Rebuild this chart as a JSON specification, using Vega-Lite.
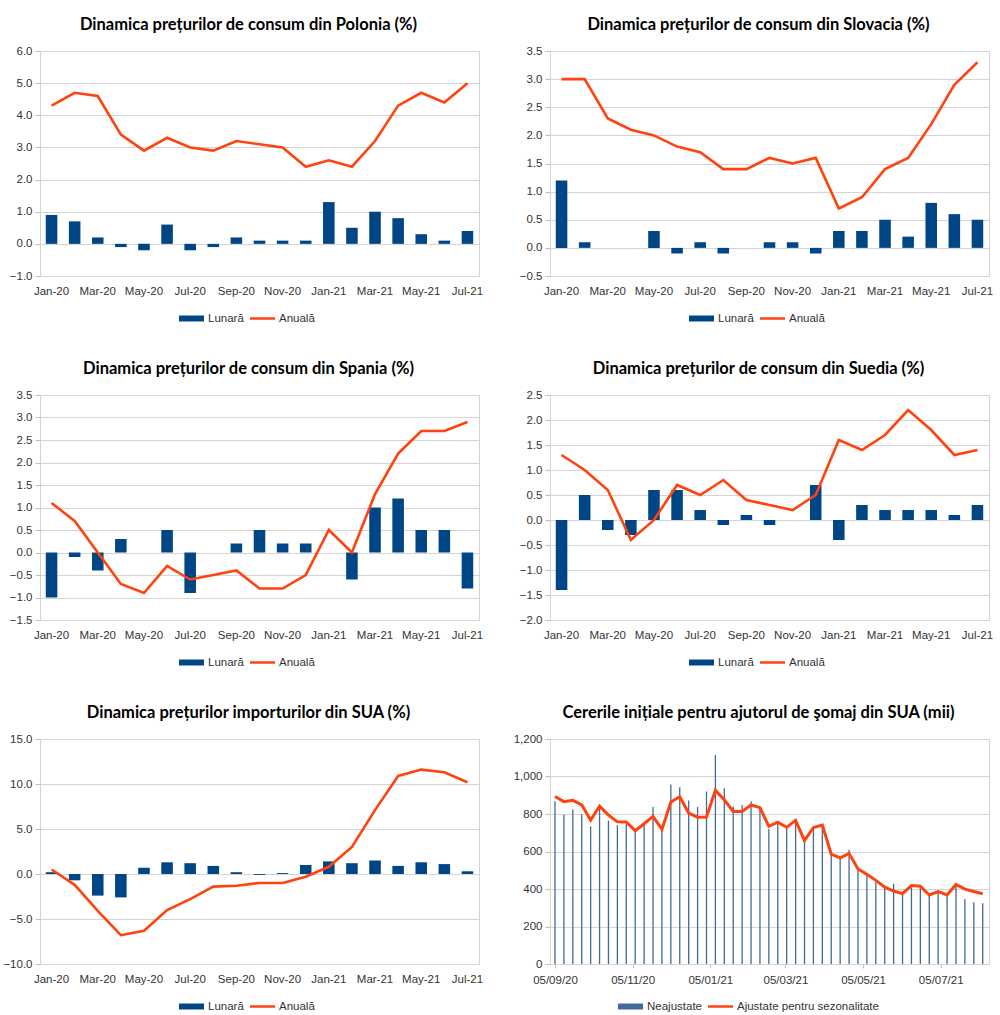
{
  "$schema": "https://vega.github.io/schema/vega-lite/v6.json",
  "padding": {"left": 2, "top": 16, "right": 5, "bottom": 2},
  "autosize": {"type": "pad"},
  "background": "white",
  "config": {
    "font": "Liberation Sans",
    "view": {"stroke": "#d4d4d4"},
    "axis": {"labelFont": "Liberation Sans", "labelFontSize": 11.5, "labelColor": "#333333", "domain": false, "tickColor": "#c0c0c0", "gridColor": "#d4d4d4", "title": null, "labelOverlap": false},
    "axisY": {"tickSize": 5, "labelPadding": 3, "grid": true},
    "axisX": {"grid": false, "labelAngle": 0, "labelPadding": 9, "labelFlush": false},
    "title": {"font": "Lato", "fontSize": 16.5, "fontWeight": "bold", "color": "#000000", "offset": 12, "anchor": "middle"},
    "legend": {"labelFont": "Liberation Sans", "labelFontSize": 11.5, "labelColor": "#333333"}
  },
  "datasets": {
    "pl": [
      {"m": "Jan-20", "lunara": 0.9, "anuala": 4.3},
      {"m": "Feb-20", "lunara": 0.7, "anuala": 4.7},
      {"m": "Mar-20", "lunara": 0.2, "anuala": 4.6},
      {"m": "Apr-20", "lunara": -0.1, "anuala": 3.4},
      {"m": "May-20", "lunara": -0.2, "anuala": 2.9},
      {"m": "Jun-20", "lunara": 0.6, "anuala": 3.3},
      {"m": "Jul-20", "lunara": -0.2, "anuala": 3.0},
      {"m": "Aug-20", "lunara": -0.1, "anuala": 2.9},
      {"m": "Sep-20", "lunara": 0.2, "anuala": 3.2},
      {"m": "Oct-20", "lunara": 0.1, "anuala": 3.1},
      {"m": "Nov-20", "lunara": 0.1, "anuala": 3.0},
      {"m": "Dec-20", "lunara": 0.1, "anuala": 2.4},
      {"m": "Jan-21", "lunara": 1.3, "anuala": 2.6},
      {"m": "Feb-21", "lunara": 0.5, "anuala": 2.4},
      {"m": "Mar-21", "lunara": 1.0, "anuala": 3.2},
      {"m": "Apr-21", "lunara": 0.8, "anuala": 4.3},
      {"m": "May-21", "lunara": 0.3, "anuala": 4.7},
      {"m": "Jun-21", "lunara": 0.1, "anuala": 4.4},
      {"m": "Jul-21", "lunara": 0.4, "anuala": 5.0}
    ],
    "sk": [
      {"m": "Jan-20", "lunara": 1.2, "anuala": 3.0},
      {"m": "Feb-20", "lunara": 0.1, "anuala": 3.0},
      {"m": "Mar-20", "lunara": 0.0, "anuala": 2.3},
      {"m": "Apr-20", "lunara": 0.0, "anuala": 2.1},
      {"m": "May-20", "lunara": 0.3, "anuala": 2.0},
      {"m": "Jun-20", "lunara": -0.1, "anuala": 1.8},
      {"m": "Jul-20", "lunara": 0.1, "anuala": 1.7},
      {"m": "Aug-20", "lunara": -0.1, "anuala": 1.4},
      {"m": "Sep-20", "lunara": 0.0, "anuala": 1.4},
      {"m": "Oct-20", "lunara": 0.1, "anuala": 1.6},
      {"m": "Nov-20", "lunara": 0.1, "anuala": 1.5},
      {"m": "Dec-20", "lunara": -0.1, "anuala": 1.6},
      {"m": "Jan-21", "lunara": 0.3, "anuala": 0.7},
      {"m": "Feb-21", "lunara": 0.3, "anuala": 0.9},
      {"m": "Mar-21", "lunara": 0.5, "anuala": 1.4},
      {"m": "Apr-21", "lunara": 0.2, "anuala": 1.6},
      {"m": "May-21", "lunara": 0.8, "anuala": 2.2},
      {"m": "Jun-21", "lunara": 0.6, "anuala": 2.9},
      {"m": "Jul-21", "lunara": 0.5, "anuala": 3.3}
    ],
    "es": [
      {"m": "Jan-20", "lunara": -1.0, "anuala": 1.1},
      {"m": "Feb-20", "lunara": -0.1, "anuala": 0.7},
      {"m": "Mar-20", "lunara": -0.4, "anuala": 0.0},
      {"m": "Apr-20", "lunara": 0.3, "anuala": -0.7},
      {"m": "May-20", "lunara": 0.0, "anuala": -0.9},
      {"m": "Jun-20", "lunara": 0.5, "anuala": -0.3},
      {"m": "Jul-20", "lunara": -0.9, "anuala": -0.6},
      {"m": "Aug-20", "lunara": 0.0, "anuala": -0.5},
      {"m": "Sep-20", "lunara": 0.2, "anuala": -0.4},
      {"m": "Oct-20", "lunara": 0.5, "anuala": -0.8},
      {"m": "Nov-20", "lunara": 0.2, "anuala": -0.8},
      {"m": "Dec-20", "lunara": 0.2, "anuala": -0.5},
      {"m": "Jan-21", "lunara": 0.0, "anuala": 0.5},
      {"m": "Feb-21", "lunara": -0.6, "anuala": 0.0},
      {"m": "Mar-21", "lunara": 1.0, "anuala": 1.3},
      {"m": "Apr-21", "lunara": 1.2, "anuala": 2.2},
      {"m": "May-21", "lunara": 0.5, "anuala": 2.7},
      {"m": "Jun-21", "lunara": 0.5, "anuala": 2.7},
      {"m": "Jul-21", "lunara": -0.8, "anuala": 2.9}
    ],
    "se": [
      {"m": "Jan-20", "lunara": -1.4, "anuala": 1.3},
      {"m": "Feb-20", "lunara": 0.5, "anuala": 1.0},
      {"m": "Mar-20", "lunara": -0.2, "anuala": 0.6},
      {"m": "Apr-20", "lunara": -0.3, "anuala": -0.4},
      {"m": "May-20", "lunara": 0.6, "anuala": 0.0},
      {"m": "Jun-20", "lunara": 0.6, "anuala": 0.7},
      {"m": "Jul-20", "lunara": 0.2, "anuala": 0.5},
      {"m": "Aug-20", "lunara": -0.1, "anuala": 0.8},
      {"m": "Sep-20", "lunara": 0.1, "anuala": 0.4},
      {"m": "Oct-20", "lunara": -0.1, "anuala": 0.3},
      {"m": "Nov-20", "lunara": 0.0, "anuala": 0.2},
      {"m": "Dec-20", "lunara": 0.7, "anuala": 0.5},
      {"m": "Jan-21", "lunara": -0.4, "anuala": 1.6},
      {"m": "Feb-21", "lunara": 0.3, "anuala": 1.4},
      {"m": "Mar-21", "lunara": 0.2, "anuala": 1.7},
      {"m": "Apr-21", "lunara": 0.2, "anuala": 2.2},
      {"m": "May-21", "lunara": 0.2, "anuala": 1.8},
      {"m": "Jun-21", "lunara": 0.1, "anuala": 1.3},
      {"m": "Jul-21", "lunara": 0.3, "anuala": 1.4}
    ],
    "us": [
      {"m": "Jan-20", "lunara": 0.2, "anuala": 0.5},
      {"m": "Feb-20", "lunara": -0.7, "anuala": -1.2},
      {"m": "Mar-20", "lunara": -2.4, "anuala": -4.1},
      {"m": "Apr-20", "lunara": -2.6, "anuala": -6.8},
      {"m": "May-20", "lunara": 0.7, "anuala": -6.3},
      {"m": "Jun-20", "lunara": 1.3, "anuala": -4.0},
      {"m": "Jul-20", "lunara": 1.2, "anuala": -2.8},
      {"m": "Aug-20", "lunara": 0.9, "anuala": -1.4},
      {"m": "Sep-20", "lunara": 0.2, "anuala": -1.3},
      {"m": "Oct-20", "lunara": -0.1, "anuala": -1.0},
      {"m": "Nov-20", "lunara": 0.1, "anuala": -1.0},
      {"m": "Dec-20", "lunara": 1.0, "anuala": -0.3},
      {"m": "Jan-21", "lunara": 1.4, "anuala": 0.8},
      {"m": "Feb-21", "lunara": 1.2, "anuala": 3.0},
      {"m": "Mar-21", "lunara": 1.5, "anuala": 7.1},
      {"m": "Apr-21", "lunara": 0.9, "anuala": 10.9},
      {"m": "May-21", "lunara": 1.3, "anuala": 11.6},
      {"m": "Jun-21", "lunara": 1.1, "anuala": 11.3},
      {"m": "Jul-21", "lunara": 0.3, "anuala": 10.2}
    ],
    "claims": [
      {"d": "2020-09-05", "nsa": 868, "sa": 893},
      {"d": "2020-09-12", "nsa": 796, "sa": 866},
      {"d": "2020-09-19", "nsa": 826, "sa": 873},
      {"d": "2020-09-26", "nsa": 799, "sa": 849},
      {"d": "2020-10-03", "nsa": 734, "sa": 767},
      {"d": "2020-10-10", "nsa": 830, "sa": 842},
      {"d": "2020-10-17", "nsa": 765, "sa": 794},
      {"d": "2020-10-24", "nsa": 741, "sa": 758},
      {"d": "2020-10-31", "nsa": 746, "sa": 757},
      {"d": "2020-11-07", "nsa": 715, "sa": 711},
      {"d": "2020-11-14", "nsa": 745, "sa": 748},
      {"d": "2020-11-21", "nsa": 837, "sa": 787},
      {"d": "2020-11-28", "nsa": 715, "sa": 718},
      {"d": "2020-12-05", "nsa": 958, "sa": 864},
      {"d": "2020-12-12", "nsa": 943, "sa": 892},
      {"d": "2020-12-19", "nsa": 872, "sa": 805},
      {"d": "2020-12-26", "nsa": 837, "sa": 783},
      {"d": "2021-01-02", "nsa": 920, "sa": 784},
      {"d": "2021-01-09", "nsa": 1115, "sa": 926},
      {"d": "2021-01-16", "nsa": 937, "sa": 876},
      {"d": "2021-01-23", "nsa": 840, "sa": 814},
      {"d": "2021-01-30", "nsa": 848, "sa": 814},
      {"d": "2021-02-06", "nsa": 868, "sa": 848},
      {"d": "2021-02-13", "nsa": 827, "sa": 834},
      {"d": "2021-02-20", "nsa": 720, "sa": 734},
      {"d": "2021-02-27", "nsa": 750, "sa": 756},
      {"d": "2021-03-06", "nsa": 729, "sa": 729},
      {"d": "2021-03-13", "nsa": 764, "sa": 766},
      {"d": "2021-03-20", "nsa": 658, "sa": 658},
      {"d": "2021-03-27", "nsa": 720, "sa": 728},
      {"d": "2021-04-03", "nsa": 738, "sa": 741},
      {"d": "2021-04-10", "nsa": 587, "sa": 586},
      {"d": "2021-04-17", "nsa": 569, "sa": 566},
      {"d": "2021-04-24", "nsa": 610, "sa": 590},
      {"d": "2021-05-01", "nsa": 505, "sa": 507},
      {"d": "2021-05-08", "nsa": 471, "sa": 478},
      {"d": "2021-05-15", "nsa": 436, "sa": 446},
      {"d": "2021-05-22", "nsa": 404, "sa": 410},
      {"d": "2021-05-29", "nsa": 428, "sa": 389},
      {"d": "2021-06-05", "nsa": 373, "sa": 375},
      {"d": "2021-06-12", "nsa": 409, "sa": 418},
      {"d": "2021-06-19", "nsa": 404, "sa": 415},
      {"d": "2021-06-26", "nsa": 368, "sa": 368},
      {"d": "2021-07-03", "nsa": 391, "sa": 386},
      {"d": "2021-07-10", "nsa": 373, "sa": 368},
      {"d": "2021-07-17", "nsa": 418, "sa": 424},
      {"d": "2021-07-24", "nsa": 347, "sa": 399},
      {"d": "2021-07-31", "nsa": 329, "sa": 387},
      {"d": "2021-08-07", "nsa": 324, "sa": 375}
    ]
  },
  "columns": 2,
  "spacing": {"row": 119, "column": 71},
  "bounds": "flush",
  "resolve": {"scale": {"color": "independent"}, "legend": {"color": "independent"}},
  "concat": [
    {
      "width": 439, "height": 225,
      "title": {"text": "Dinamica prețurilor de consum din Polonia (%)", "dx": -11},
      "data": {"name": "pl"},
      "layer": [
        {
          "mark": {"type": "bar"},
          "encoding": {
            "x": {"field": "m", "type": "ordinal", "sort": null, "scale": {"paddingInner": 0.5, "paddingOuter": 0.25}, "axis": {"values": ["Jan-20","Mar-20","May-20","Jul-20","Sep-20","Nov-20","Jan-21","Mar-21","May-21","Jul-21"], "ticks": false}},
            "y": {"field": "lunara", "type": "quantitative", "scale": {"domain": [-1, 6], "nice": false}, "axis": {"values": [-1,0,1,2,3,4,5,6], "tickCount": 50, "format": ".1f"}},
            "color": {"datum": "Lunară", "scale": {"domain": ["Lunară", "Anuală"], "range": ["#004586", "#ff420e"]},
              "legend": {"orient": "none", "legendX": 139, "legendY": 255, "direction": "horizontal", "title": null, "symbolSize": 625, "labelOffset": 4, "columnPadding": 6,
                "encode": {"symbols": {"update": {"shape": {"signal": "datum.value === 'Lunară' ? 'M-1,-0.24H1V0.24H-1Z' : 'M-1,-0.1H1V0.1H-1Z'"}, "fill": {"signal": "datum.value === 'Lunară' ? '#004586' : '#ff420e'"}, "stroke": {"value": "transparent"}, "strokeWidth": {"value": 0}, "opacity": {"value": 1}}}}}}
          }
        },
        {
          "mark": {"type": "line", "strokeWidth": 2.6},
          "encoding": {
            "x": {"field": "m", "type": "ordinal", "sort": null},
            "y": {"field": "anuala", "type": "quantitative"},
            "color": {"datum": "Anuală"}
          }
        }
      ]
    },
    {
      "width": 439, "height": 225,
      "title": {"text": "Dinamica prețurilor de consum din Slovacia (%)", "dx": -11},
      "data": {"name": "sk"},
      "layer": [
        {
          "mark": {"type": "bar"},
          "encoding": {
            "x": {"field": "m", "type": "ordinal", "sort": null, "scale": {"paddingInner": 0.5, "paddingOuter": 0.25}, "axis": {"values": ["Jan-20","Mar-20","May-20","Jul-20","Sep-20","Nov-20","Jan-21","Mar-21","May-21","Jul-21"], "ticks": false}},
            "y": {"field": "lunara", "type": "quantitative", "scale": {"domain": [-0.5, 3.5], "nice": false}, "axis": {"values": [-0.5,0,0.5,1,1.5,2,2.5,3,3.5], "tickCount": 50, "format": ".1f"}},
            "color": {"datum": "Lunară", "scale": {"domain": ["Lunară", "Anuală"], "range": ["#004586", "#ff420e"]},
              "legend": {"orient": "none", "legendX": 139, "legendY": 255, "direction": "horizontal", "title": null, "symbolSize": 625, "labelOffset": 4, "columnPadding": 6,
                "encode": {"symbols": {"update": {"shape": {"signal": "datum.value === 'Lunară' ? 'M-1,-0.24H1V0.24H-1Z' : 'M-1,-0.1H1V0.1H-1Z'"}, "fill": {"signal": "datum.value === 'Lunară' ? '#004586' : '#ff420e'"}, "stroke": {"value": "transparent"}, "strokeWidth": {"value": 0}, "opacity": {"value": 1}}}}}}
          }
        },
        {
          "mark": {"type": "line", "strokeWidth": 2.6},
          "encoding": {
            "x": {"field": "m", "type": "ordinal", "sort": null},
            "y": {"field": "anuala", "type": "quantitative"},
            "color": {"datum": "Anuală"}
          }
        }
      ]
    },
    {
      "width": 439, "height": 225,
      "title": {"text": "Dinamica prețurilor de consum din Spania (%)", "dx": -11},
      "data": {"name": "es"},
      "layer": [
        {
          "mark": {"type": "bar"},
          "encoding": {
            "x": {"field": "m", "type": "ordinal", "sort": null, "scale": {"paddingInner": 0.5, "paddingOuter": 0.25}, "axis": {"values": ["Jan-20","Mar-20","May-20","Jul-20","Sep-20","Nov-20","Jan-21","Mar-21","May-21","Jul-21"], "ticks": false}},
            "y": {"field": "lunara", "type": "quantitative", "scale": {"domain": [-1.5, 3.5], "nice": false}, "axis": {"values": [-1.5,-1,-0.5,0,0.5,1,1.5,2,2.5,3,3.5], "tickCount": 50, "format": ".1f"}},
            "color": {"datum": "Lunară", "scale": {"domain": ["Lunară", "Anuală"], "range": ["#004586", "#ff420e"]},
              "legend": {"orient": "none", "legendX": 139, "legendY": 255, "direction": "horizontal", "title": null, "symbolSize": 625, "labelOffset": 4, "columnPadding": 6,
                "encode": {"symbols": {"update": {"shape": {"signal": "datum.value === 'Lunară' ? 'M-1,-0.24H1V0.24H-1Z' : 'M-1,-0.1H1V0.1H-1Z'"}, "fill": {"signal": "datum.value === 'Lunară' ? '#004586' : '#ff420e'"}, "stroke": {"value": "transparent"}, "strokeWidth": {"value": 0}, "opacity": {"value": 1}}}}}}
          }
        },
        {
          "mark": {"type": "line", "strokeWidth": 2.6},
          "encoding": {
            "x": {"field": "m", "type": "ordinal", "sort": null},
            "y": {"field": "anuala", "type": "quantitative"},
            "color": {"datum": "Anuală"}
          }
        }
      ]
    },
    {
      "width": 439, "height": 225,
      "title": {"text": "Dinamica prețurilor de consum din Suedia (%)", "dx": -11},
      "data": {"name": "se"},
      "layer": [
        {
          "mark": {"type": "bar"},
          "encoding": {
            "x": {"field": "m", "type": "ordinal", "sort": null, "scale": {"paddingInner": 0.5, "paddingOuter": 0.25}, "axis": {"values": ["Jan-20","Mar-20","May-20","Jul-20","Sep-20","Nov-20","Jan-21","Mar-21","May-21","Jul-21"], "ticks": false}},
            "y": {"field": "lunara", "type": "quantitative", "scale": {"domain": [-2, 2.5], "nice": false}, "axis": {"values": [-2,-1.5,-1,-0.5,0,0.5,1,1.5,2,2.5], "tickCount": 50, "format": ".1f"}},
            "color": {"datum": "Lunară", "scale": {"domain": ["Lunară", "Anuală"], "range": ["#004586", "#ff420e"]},
              "legend": {"orient": "none", "legendX": 139, "legendY": 255, "direction": "horizontal", "title": null, "symbolSize": 625, "labelOffset": 4, "columnPadding": 6,
                "encode": {"symbols": {"update": {"shape": {"signal": "datum.value === 'Lunară' ? 'M-1,-0.24H1V0.24H-1Z' : 'M-1,-0.1H1V0.1H-1Z'"}, "fill": {"signal": "datum.value === 'Lunară' ? '#004586' : '#ff420e'"}, "stroke": {"value": "transparent"}, "strokeWidth": {"value": 0}, "opacity": {"value": 1}}}}}}
          }
        },
        {
          "mark": {"type": "line", "strokeWidth": 2.6},
          "encoding": {
            "x": {"field": "m", "type": "ordinal", "sort": null},
            "y": {"field": "anuala", "type": "quantitative"},
            "color": {"datum": "Anuală"}
          }
        }
      ]
    },
    {
      "width": 439, "height": 225,
      "title": {"text": "Dinamica prețurilor importurilor din SUA (%)", "dx": -11},
      "data": {"name": "us"},
      "layer": [
        {
          "mark": {"type": "bar"},
          "encoding": {
            "x": {"field": "m", "type": "ordinal", "sort": null, "scale": {"paddingInner": 0.5, "paddingOuter": 0.25}, "axis": {"values": ["Jan-20","Mar-20","May-20","Jul-20","Sep-20","Nov-20","Jan-21","Mar-21","May-21","Jul-21"], "ticks": false}},
            "y": {"field": "lunara", "type": "quantitative", "scale": {"domain": [-10, 15], "nice": false}, "axis": {"values": [-10,-5,0,5,10,15], "tickCount": 50, "format": ".1f"}},
            "color": {"datum": "Lunară", "scale": {"domain": ["Lunară", "Anuală"], "range": ["#004586", "#ff420e"]},
              "legend": {"orient": "none", "legendX": 139, "legendY": 255, "direction": "horizontal", "title": null, "symbolSize": 625, "labelOffset": 4, "columnPadding": 6,
                "encode": {"symbols": {"update": {"shape": {"signal": "datum.value === 'Lunară' ? 'M-1,-0.24H1V0.24H-1Z' : 'M-1,-0.1H1V0.1H-1Z'"}, "fill": {"signal": "datum.value === 'Lunară' ? '#004586' : '#ff420e'"}, "stroke": {"value": "transparent"}, "strokeWidth": {"value": 0}, "opacity": {"value": 1}}}}}}
          }
        },
        {
          "mark": {"type": "line", "strokeWidth": 2.6},
          "encoding": {
            "x": {"field": "m", "type": "ordinal", "sort": null},
            "y": {"field": "anuala", "type": "quantitative"},
            "color": {"datum": "Anuală"}
          }
        }
      ]
    },
    {
      "width": 439, "height": 225,
      "title": {"text": "Cererile inițiale pentru ajutorul de şomaj din SUA (mii)", "dx": -11},
      "data": {"name": "claims"},
      "layer": [
        {
          "mark": {"type": "bar", "width": 1.3},
          "encoding": {
            "x": {"field": "d", "type": "temporal",
              "scale": {"type": "utc", "domain": [{"year": 2020, "month": 9, "date": 5, "utc": true}, {"year": 2021, "month": 8, "date": 8, "utc": true}]},
              "axis": {"values": [{"year": 2020, "month": 9, "date": 5, "utc": true}, {"year": 2020, "month": 11, "date": 5, "utc": true}, {"year": 2021, "month": 1, "date": 5, "utc": true}, {"year": 2021, "month": 3, "date": 5, "utc": true}, {"year": 2021, "month": 5, "date": 5, "utc": true}, {"year": 2021, "month": 7, "date": 5, "utc": true}], "tickCount": 50, "format": "%d/%m/%y", "ticks": true, "tickSize": 4, "labelPadding": 6}},
            "y": {"field": "nsa", "type": "quantitative", "scale": {"domain": [0, 1200], "nice": false}, "axis": {"values": [0,200,400,600,800,1000,1200], "tickCount": 50, "format": ",.0f"}},
            "color": {"datum": "Neajustate", "scale": {"domain": ["Neajustate", "Ajustate pentru sezonalitate"], "range": ["#41699a", "#ff420e"]},
              "legend": {"orient": "none", "legendX": 68, "legendY": 255, "direction": "horizontal", "title": null, "symbolSize": 625, "labelOffset": 4, "columnPadding": 6, "labelLimit": 300,
                "encode": {"symbols": {"update": {"shape": {"signal": "datum.value === 'Neajustate' ? 'M-1,-0.24H1V0.24H-1Z' : 'M-1,-0.1H1V0.1H-1Z'"}, "fill": {"signal": "datum.value === 'Neajustate' ? '#004586' : '#ff420e'"}, "stroke": {"value": "transparent"}, "strokeWidth": {"value": 0}, "opacity": {"value": 1}}}}}}
          }
        },
        {
          "mark": {"type": "line", "strokeWidth": 3},
          "encoding": {
            "x": {"field": "d", "type": "temporal"},
            "y": {"field": "sa", "type": "quantitative"},
            "color": {"datum": "Ajustate pentru sezonalitate"}
          }
        }
      ]
    }
  ]
}
